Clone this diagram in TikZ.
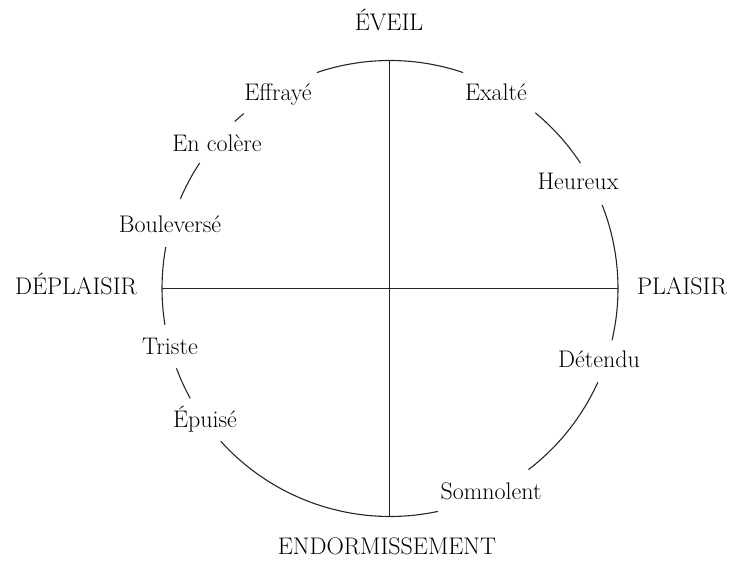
\documentclass[tikz,border=0pt]{standalone}
\usepackage{fontspec}
\begin{document}
\begin{tikzpicture}[x=1pt,y=1pt,
  lbl/.style={anchor=base,inner sep=0pt,font=\fontsize{24}{28}\selectfont,text=black},
  ring/.style={line width=1.1pt,draw=black!85},
  axis/.style={line width=1.1pt,draw=black!85}]
\useasboundingbox (0,0) rectangle (731,569);
\def\R{228}
\coordinate (c) at (390,280.5);
\coordinate (top) at (389.5,508.5);
\coordinate (bot) at (389.5,52.5);
\coordinate (lft) at (162,280.5);
\coordinate (rgt) at (618,280.5);
% axes
\draw[axis] (top) -- (bot);
\draw[axis] (lft) -- (rgt);
% circle arcs
\foreach \a/\b in {108.7/71.3, 50.4/33.4, 21.5/-13.1, -24.3/-52.6, -77.9/-137.9, -151.2/-159.5, -170.8/-190.5, 156.9/146.6, 132.9/129.9}
  \draw[ring] ([shift={(\a:\R)}]c) arc[start angle=\a, end angle=\b, radius=\R];
% labels
\node[lbl] (eveil) at (389,538) {ÉVEIL};
\node[lbl] (endorm) at (387,14) {ENDORMISSEMENT};
\node[lbl] (deplaisir) at (76,274) {DÉPLAISIR};
\node[lbl] (plaisir) at (682,274) {PLAISIR};
\node[lbl] (effraye) at (278,468) {Effrayé};
\node[lbl] (exalte) at (496,468) {Exalté};
\node[lbl] (colere) at (217,417) {En colère};
\node[lbl] (heureux) at (578,379) {Heureux};
\node[lbl] (boul) at (170,336) {Bouleversé};
\node[lbl] (triste) at (170,214) {Triste};
\node[lbl] (detendu) at (599,201) {Détendu};
\node[lbl] (epuise) at (205,141) {Épuisé};
\node[lbl] (somno) at (491,69) {Somnolent};
\end{tikzpicture}
\end{document}
